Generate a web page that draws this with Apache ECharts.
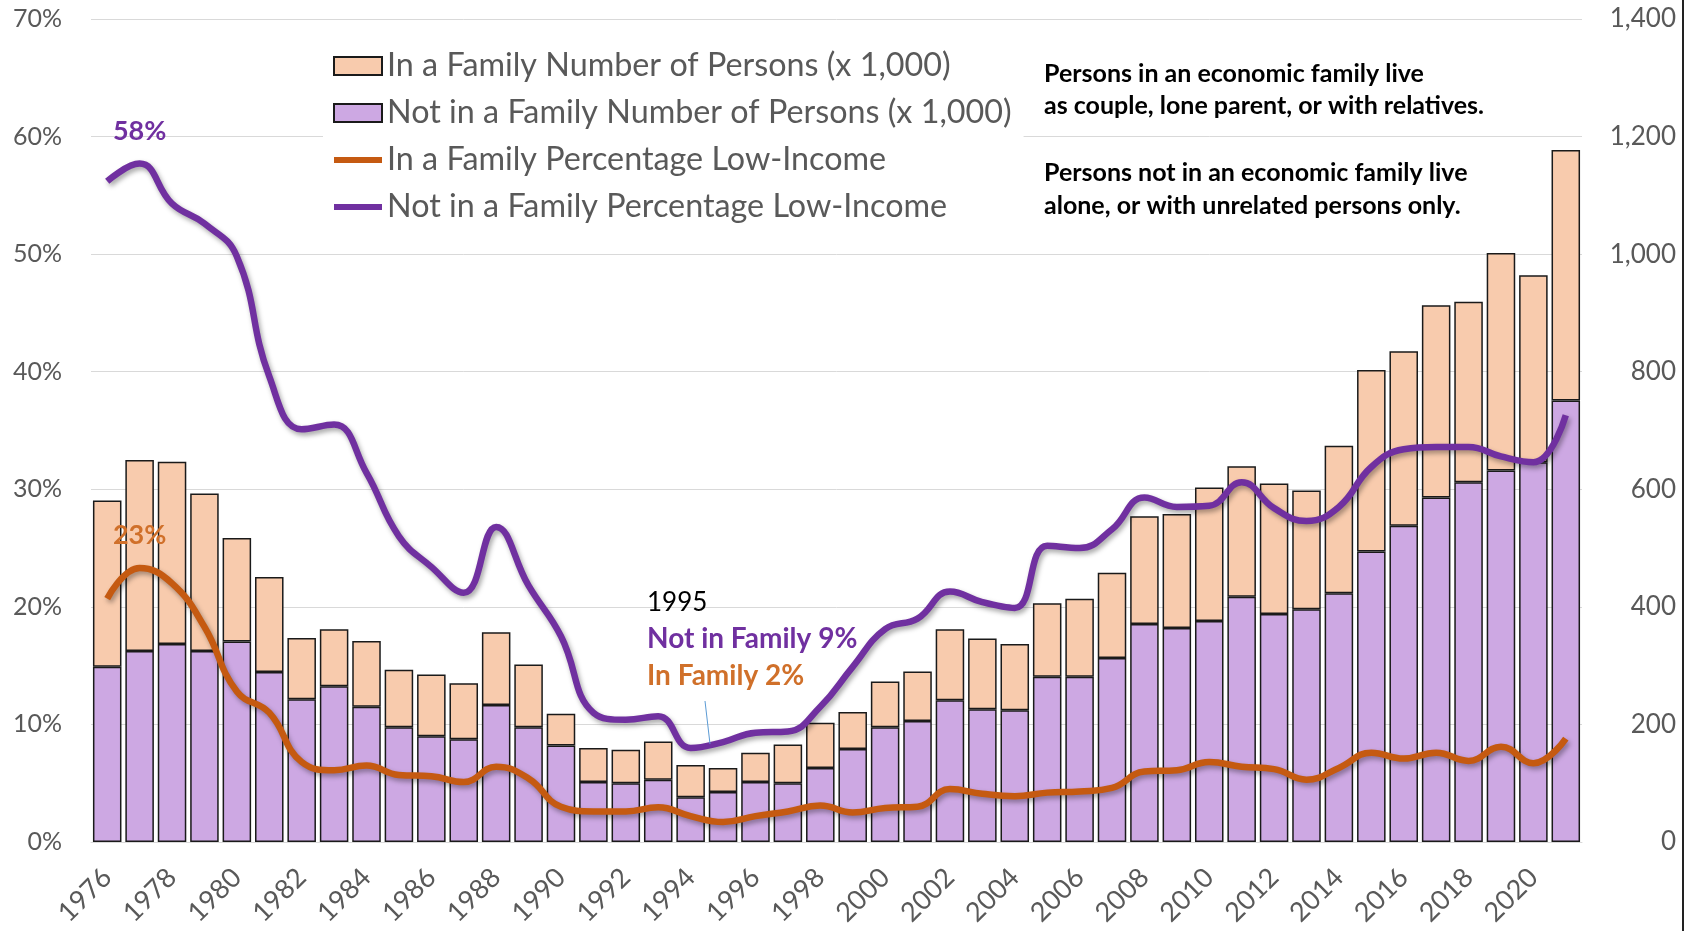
<!DOCTYPE html>
<html>
<head>
<meta charset="utf-8">
<title>Low income: persons in and not in an economic family</title>
<script src="https://cdn.jsdelivr.net/npm/echarts@6/dist/echarts.min.js"></script>
<style>
  html, body { margin: 0; padding: 0; background: #fff; }
  #main { width: 1687px; height: 931px; }
</style>
</head>
<body>
<div id="main"></div>
<script>
// years on the x axis
var years = ['1976', '1977', '1978', '1979', '1980', '1981', '1982', '1983', '1984', '1985',
             '1986', '1987', '1988', '1989', '1990', '1991', '1992', '1993', '1994', '1995',
             '1996', '1997', '1998', '1999', '2000', '2001', '2002', '2003', '2004', '2005',
             '2006', '2007', '2008', '2009', '2010', '2011', '2012', '2013', '2014', '2015',
             '2016', '2017', '2018', '2019', '2020', '2021'];

// number of low-income persons (x 1,000), stacked bars
var notFamilyPersons = [298, 325, 337, 325, 341, 289, 243, 265, 230, 195,
                        180, 175, 233, 195, 164, 102, 100, 106, 76, 85,
                        102, 100, 126, 158, 195, 206, 241, 226, 224, 281,
                        281, 313, 371, 364, 376, 417, 388, 396, 423, 494,
                        538, 586, 612, 632, 646, 751];
var inFamilyPersons = [283, 325, 310, 268, 176, 162, 104, 97, 112, 98,
                       105, 95, 124, 107, 54, 58, 57, 65, 55, 41,
                       50, 66, 77, 63, 78, 84, 121, 120, 113, 125,
                       133, 145, 183, 194, 227, 222, 222, 202, 251, 309,
                       297, 327, 307, 370, 318, 426];

// percentage low-income (left axis)
var inFamilyPct = [20.7, 23.3, 22.0, 18.3, 12.8, 11.0, 6.8, 6.1, 6.5, 5.7,
                   5.6, 5.1, 6.4, 5.4, 3.0, 2.6, 2.6, 2.95, 2.2, 1.7,
                   2.2, 2.6, 3.1, 2.5, 2.9, 3.0, 4.5, 4.1, 3.9, 4.2,
                   4.3, 4.6, 6.0, 6.1, 6.8, 6.4, 6.2, 5.3, 6.3, 7.6,
                   7.1, 7.6, 6.9, 8.1, 6.7, 8.8];
var notFamilyPct = [56.2, 57.7, 54.3, 52.6, 49.8, 39.6, 35.1, 35.5, 31.4, 26.0,
                    23.4, 21.2, 26.8, 21.8, 17.5, 11.0, 10.4, 10.7, 8.0, 8.5,
                    9.3, 9.4, 11.5, 14.9, 18.1, 19.0, 21.3, 20.4, 19.9, 25.2,
                    25.0, 26.6, 29.3, 28.5, 28.6, 30.6, 28.4, 27.3, 28.5, 31.9,
                    33.4, 33.6, 33.6, 32.8, 32.3, 36.3];

var names = ['In a Family Number of Persons (x 1,000)',
             'Not in a Family Number of Persons (x 1,000)',
             'In a Family Percentage Low-Income',
             'Not in a Family Percentage Low-Income'];

var FONT = 'Lato';
var GREY = '#595959';
var ORANGE = '#C55A11';
var PURPLE = '#7030A0';

var myChart = echarts.init(document.getElementById('main'));

function note(x, y, text, color, size, weight) {
    return {
        type: 'text', x: x, y: y, z: 100,
        style: {
            text: text, fill: color,
            font: weight + ' ' + size + 'px ' + FONT,
            textAlign: 'left', textVerticalAlign: 'middle',
            align: 'left', verticalAlign: 'middle'
        }
    };
}

var lineShadow = {
    shadowColor: 'rgba(0,0,0,0.35)',
    shadowBlur: 5,
    shadowOffsetX: 2,
    shadowOffsetY: 3
};

myChart.setOption({
    backgroundColor: '#fff',
    animation: false,
    textStyle: { fontFamily: FONT },
    grid: { left: 91, right: 105, top: 19, bottom: 89 },
    legend: {
        orient: 'vertical',
        left: 323,
        top: 44,
        backgroundColor: '#fff',
        padding: [6, 12, 6, 10],
        itemGap: 15,
        itemWidth: 48,
        itemHeight: 18,
        textStyle: { fontFamily: FONT, fontSize: 32.3, color: GREY, lineHeight: 30 },
        data: [
            { name: names[0], icon: 'rect' },
            { name: names[1], icon: 'rect' },
            { name: names[2], icon: 'path://M0,0H48V6H0Z', itemStyle: { borderWidth: 0 } },
            { name: names[3], icon: 'path://M0,0H48V6H0Z', itemStyle: { borderWidth: 0 } }
        ]
    },
    xAxis: {
        type: 'category',
        data: years,
        axisLine: { lineStyle: { color: '#D9D9D9', width: 1 } },
        axisTick: { alignWithLabel: true, interval: 0, length: 9, lineStyle: { color: '#D9D9D9' } },
        axisLabel: { interval: 1, rotate: 45, margin: 31, color: GREY, fontSize: 27, fontFamily: FONT }
    },
    yAxis: [{
        type: 'value',
        min: 0, max: 70, interval: 10,
        axisLine: { show: false },
        axisTick: { show: false },
        splitLine: { lineStyle: { color: '#D9D9D9', width: 1 } },
        axisLabel: { formatter: '{value}%', margin: 29, color: GREY, fontSize: 25, fontFamily: FONT }
    }, {
        type: 'value',
        min: 0, max: 1400, interval: 200,
        axisLine: { show: false },
        axisTick: { show: false },
        splitLine: { show: false },
        axisLabel: {
            align: 'right', margin: 94, color: GREY, fontSize: 26, fontFamily: FONT,
            formatter: function (v) { return v.toLocaleString('en-US'); }
        }
    }],
    series: [{
        name: names[1],
        type: 'bar',
        yAxisIndex: 1,
        stack: 'persons',
        barCategoryGap: '12%',
        itemStyle: { color: '#CDA8E3', borderColor: '#1a1a1a', borderWidth: 1.5 },
        data: notFamilyPersons
    }, {
        name: names[0],
        type: 'bar',
        yAxisIndex: 1,
        stack: 'persons',
        barCategoryGap: '12%',
        itemStyle: { color: '#F8CBAD', borderColor: '#1a1a1a', borderWidth: 1.5 },
        data: inFamilyPersons
    }, {
        name: names[2],
        type: 'line',
        yAxisIndex: 0,
        smooth: 0.45,
        showSymbol: false,
        color: ORANGE,
        lineStyle: Object.assign({ color: ORANGE, width: 6.5 }, lineShadow),
        data: inFamilyPct,
        markPoint: {
            symbol: 'circle', symbolSize: 1,
            itemStyle: { color: 'rgba(0,0,0,0)' },
            label: {
                show: true, position: 'top', distance: 19,
                color: '#D0702A', fontWeight: 'bold', fontSize: 27, fontFamily: FONT,
                formatter: '23%'
            },
            data: [{ coord: [years[1], inFamilyPct[1]] }]
        }
    }, {
        name: names[3],
        type: 'line',
        yAxisIndex: 0,
        smooth: 0.45,
        showSymbol: false,
        color: PURPLE,
        lineStyle: Object.assign({ color: PURPLE, width: 6.5 }, lineShadow),
        data: notFamilyPct,
        markPoint: {
            symbol: 'circle', symbolSize: 1,
            itemStyle: { color: 'rgba(0,0,0,0)' },
            label: {
                show: true, position: 'top', distance: 18,
                color: PURPLE, fontWeight: 'bold', fontSize: 27, fontFamily: FONT,
                formatter: '58%'
            },
            data: [{ coord: [years[1], notFamilyPct[1]] }]
        }
    }],
    graphic: [
        note(1044, 74, 'Persons in an economic family live', '#000', 25, 'bold'),
        note(1044, 106, 'as couple, lone parent, or with relatives.', '#000', 25, 'bold'),
        note(1044, 173, 'Persons not in an economic family live', '#000', 25, 'bold'),
        note(1044, 206, 'alone, or with unrelated persons only.', '#000', 25, 'bold'),
        note(647, 603, '1995', '#000', 26, 'normal'),
        note(647, 639, 'Not in Family 9%', PURPLE, 28, 'bold'),
        note(647, 676, 'In Family 2%', '#D0702A', 28, 'bold'),
        {
            type: 'line', z: 100,
            shape: { x1: 705, y1: 701, x2: 710, y2: 744 },
            style: { stroke: '#5B9BD5', lineWidth: 1 }
        },
        {
            type: 'line', z: 100,
            shape: { x1: 1683, y1: 0, x2: 1683, y2: 931 },
            style: { stroke: '#222', lineWidth: 2 }
        }
    ]
});
</script>
</body>
</html>
